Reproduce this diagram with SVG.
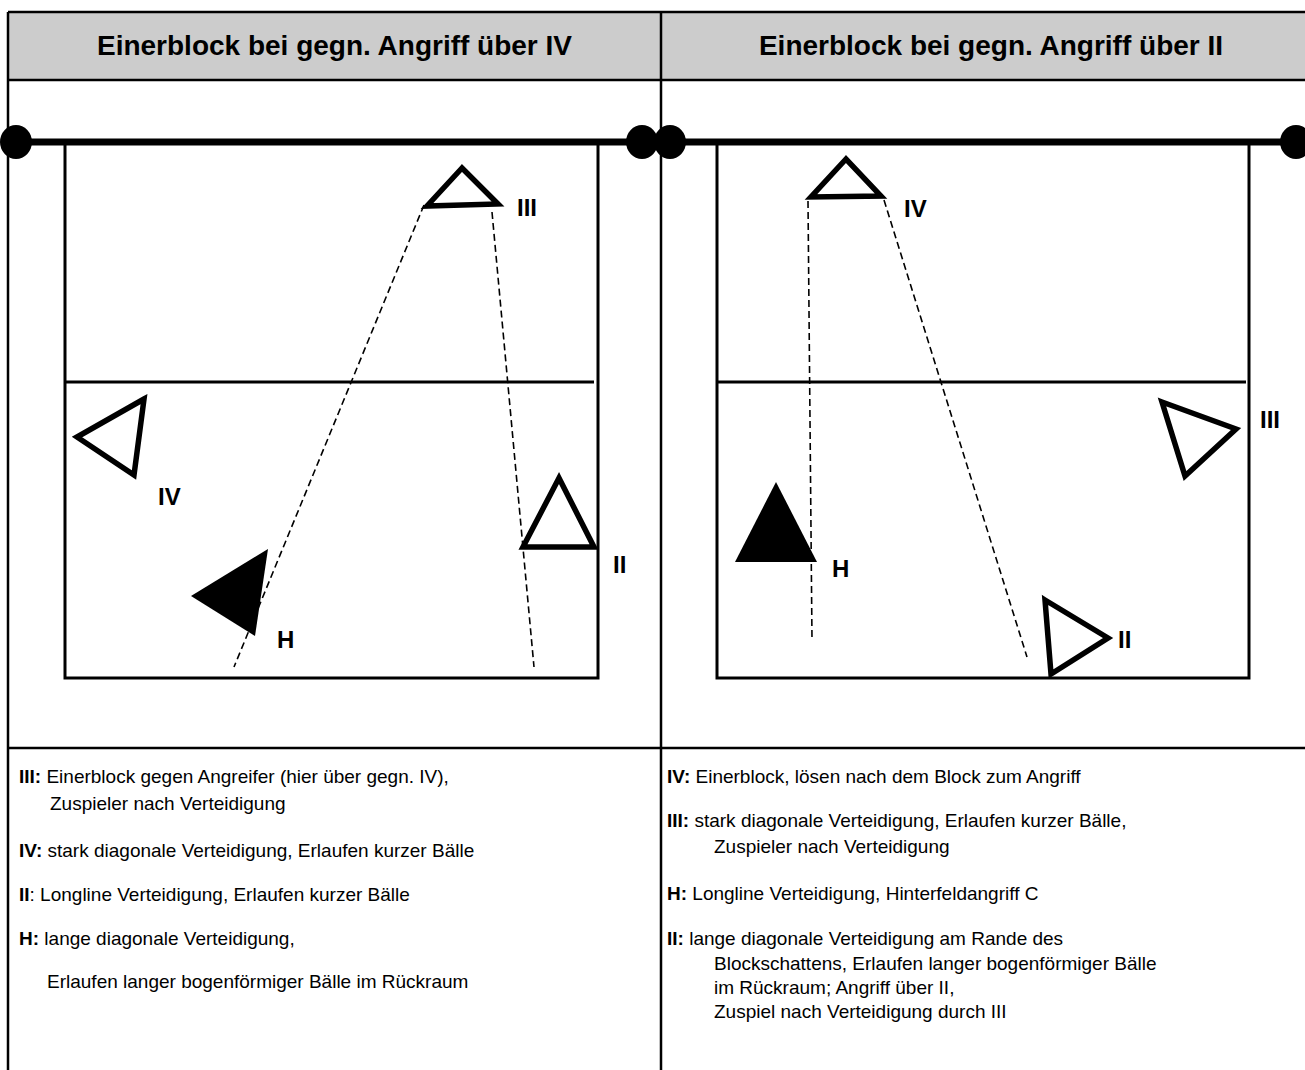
<svg xmlns="http://www.w3.org/2000/svg" width="1305" height="1070" viewBox="0 0 1305 1070">
<style>
.frame{fill:none;stroke:#000;stroke-width:2.5}
.court{fill:none;stroke:#000;stroke-width:3}
.net{stroke:#000;stroke-width:7}
.post{fill:#000}
.tri{fill:#fff;stroke:#000;stroke-width:5.5;stroke-linejoin:miter}
.trif{fill:#000;stroke:none}
.dash{fill:none;stroke:#000;stroke-width:1.6;stroke-dasharray:7 4}
.hd{font-family:"Liberation Sans",Arial,sans-serif;font-weight:bold;font-size:28px;fill:#000;text-anchor:middle}
.lbl{font-family:"Liberation Sans",Arial,sans-serif;font-weight:bold;font-size:24px;fill:#000}
.tx{font-family:"Liberation Sans",Arial,sans-serif;font-size:19px;fill:#000}
.b{font-weight:bold}
</style>
<rect x="0" y="0" width="1305" height="1070" fill="#fff"/>
<g id="table">
<rect x="8" y="12" width="1320" height="68" fill="#cccccc"/>
<line class="frame" x1="8" y1="12" x2="1305" y2="12"/>
<line class="frame" x1="8" y1="12" x2="8" y2="1070"/>
<line class="frame" x1="661" y1="12" x2="661" y2="1070"/>
<line class="frame" x1="8" y1="80" x2="1305" y2="80"/>
<line class="frame" x1="8" y1="748" x2="1305" y2="748"/>
<text class="hd" x="334.5" y="55">Einerblock bei gegn. Angriff über IV</text>
<text class="hd" x="991" y="55">Einerblock bei gegn. Angriff über II</text>
</g>
<g id="court-left">
<rect class="court" x="65" y="142" width="533" height="536"/>
<line class="court" x1="65" y1="382" x2="594" y2="382"/>
<line class="net" x1="16" y1="142" x2="642" y2="142"/>
<ellipse class="post" cx="16" cy="142" rx="16" ry="17"/>
<ellipse class="post" cx="642" cy="142" rx="16" ry="17"/>
</g>
<g id="court-right">
<rect class="court" x="717" y="142" width="532" height="536"/>
<line class="court" x1="717" y1="382" x2="1246" y2="382"/>
<line class="net" x1="670" y1="142" x2="1296" y2="142"/>
<ellipse class="post" cx="670" cy="142" rx="16" ry="17"/>
<ellipse class="post" cx="1296" cy="142" rx="16" ry="17"/>
</g>
<g id="connectors">
<line class="dash" x1="424" y1="205" x2="234" y2="667"/>
<line class="dash" x1="492" y1="212" x2="534" y2="667"/>
<line class="dash" x1="808" y1="201" x2="812" y2="640"/>
<line class="dash" x1="884" y1="200" x2="1027" y2="657"/>
</g>
<g id="L-III">
<polygon class="tri" points="462,168 427,206 498,204"/>
<text class="lbl" x="517" y="216">III</text>
</g>
<g id="L-IV">
<polygon class="tri" points="144,399 77,437 134,475"/>
<text class="lbl" x="158" y="505">IV</text>
</g>
<g id="L-II">
<polygon class="tri" points="559,478 523,547 594,547"/>
<text class="lbl" x="613" y="573">II</text>
</g>
<g id="L-H">
<polygon class="trif" points="268,549 191,596 255,636"/>
<text class="lbl" x="277" y="648">H</text>
</g>
<g id="R-IV">
<polygon class="tri" points="846,159 811,197 881,196"/>
<text class="lbl" x="904" y="217">IV</text>
</g>
<g id="R-H">
<polygon class="trif" points="776,482 735,562 817,562"/>
<text class="lbl" x="832" y="577">H</text>
</g>
<g id="R-III">
<polygon class="tri" points="1162,402 1236,429 1185,476"/>
<text class="lbl" x="1260" y="428">III</text>
</g>
<g id="R-II">
<polygon class="tri" points="1045,600 1108,638 1051,674"/>
<text class="lbl" x="1118" y="648">II</text>
</g>
<g id="text-left">
<text class="tx" x="19" y="783"><tspan class="b">III:</tspan> Einerblock gegen Angreifer (hier über gegn. IV),</text>
<text class="tx" x="50" y="810">Zuspieler nach Verteidigung</text>
<text class="tx" x="19" y="857"><tspan class="b">IV:</tspan> stark diagonale Verteidigung, Erlaufen kurzer Bälle</text>
<text class="tx" x="19" y="901"><tspan class="b">II</tspan>: Longline Verteidigung, Erlaufen kurzer Bälle</text>
<text class="tx" x="19" y="945"><tspan class="b">H:</tspan> lange diagonale Verteidigung,</text>
<text class="tx" x="47" y="988">Erlaufen langer bogenförmiger Bälle im Rückraum</text>
</g>
<g id="text-right">
<text class="tx" x="667" y="783"><tspan class="b">IV:</tspan> Einerblock, lösen nach dem Block zum Angriff</text>
<text class="tx" x="667" y="827"><tspan class="b">III:</tspan> stark diagonale Verteidigung, Erlaufen kurzer Bälle,</text>
<text class="tx" x="714" y="853">Zuspieler nach Verteidigung</text>
<text class="tx" x="667" y="900"><tspan class="b">H:</tspan> Longline Verteidigung, Hinterfeldangriff C</text>
<text class="tx" x="667" y="945"><tspan class="b">II:</tspan> lange diagonale Verteidigung am Rande des</text>
<text class="tx" x="714" y="970">Blockschattens, Erlaufen langer bogenförmiger Bälle</text>
<text class="tx" x="714" y="994">im Rückraum; Angriff über II,</text>
<text class="tx" x="714" y="1018">Zuspiel nach Verteidigung durch III</text>
</g>
</svg>
